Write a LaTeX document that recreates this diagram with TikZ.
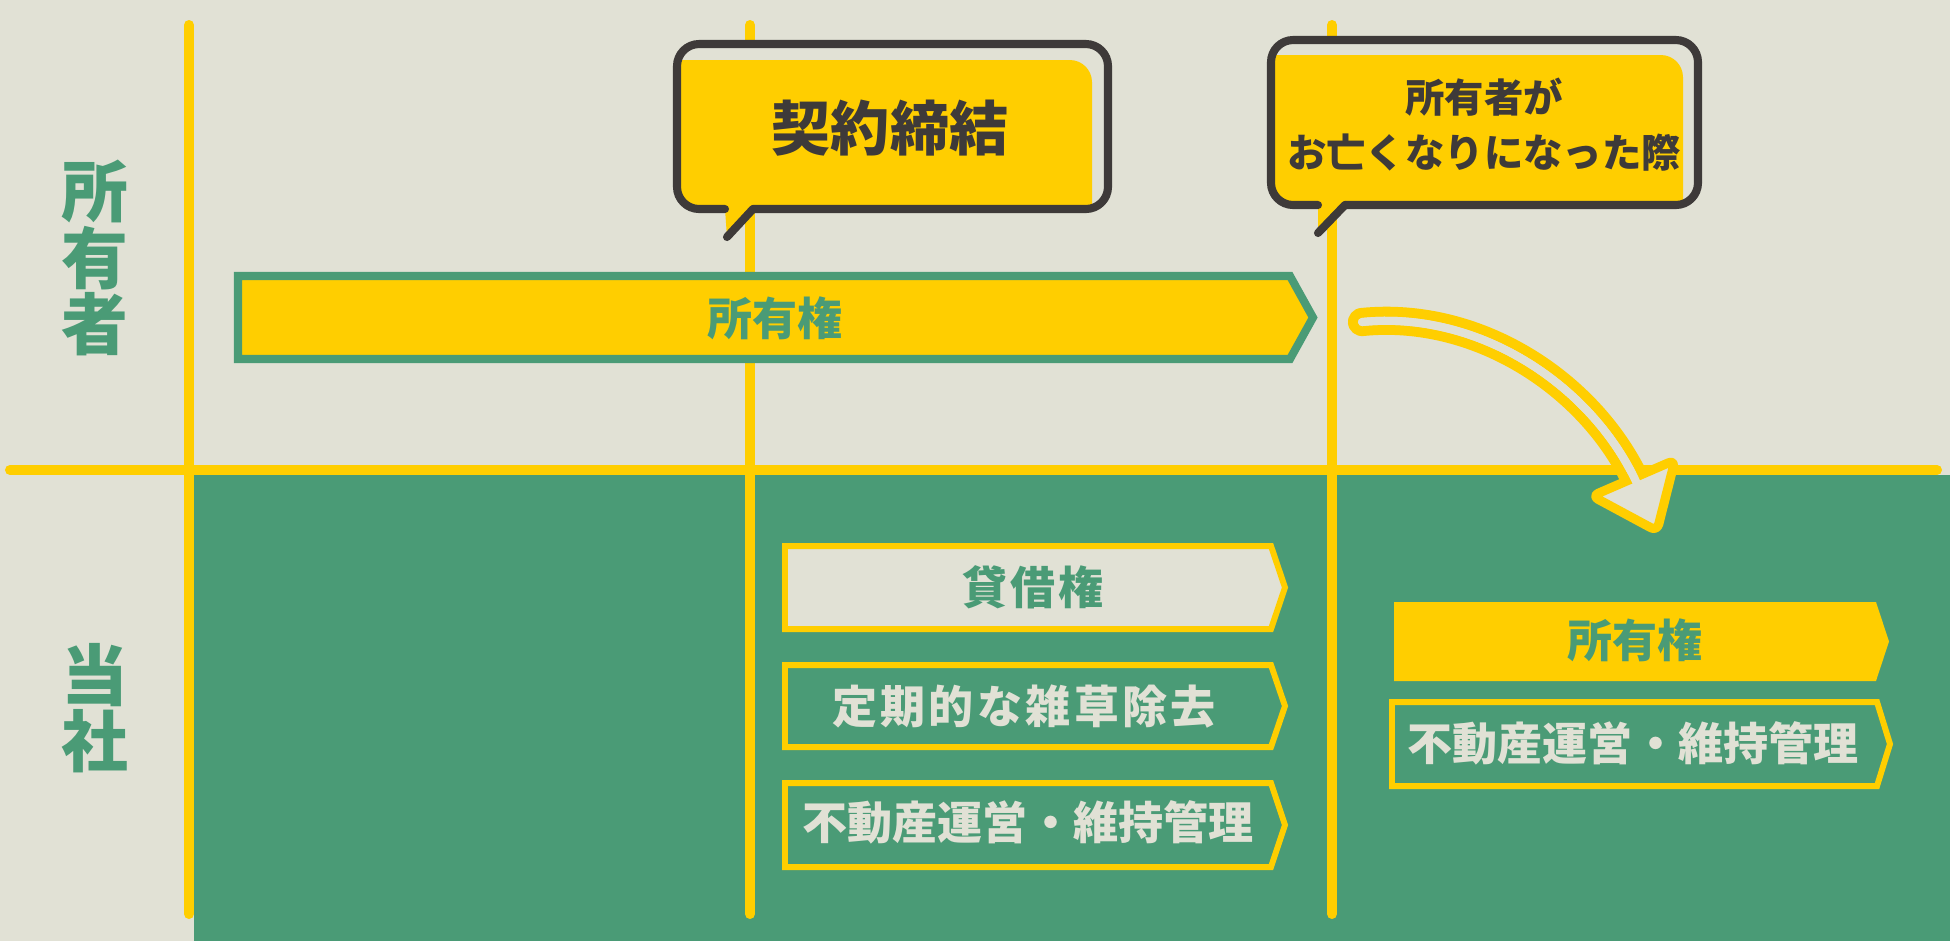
\documentclass[tikz,border=0pt]{standalone}
\usepackage{fontspec}
\setmainfont{Noto Sans CJK JP}

\definecolor{bgbeige}{HTML}{E1E1D5}
\definecolor{fieldgreen}{HTML}{4A9B76}
\definecolor{lineyellow}{HTML}{FFCE00}
\definecolor{inkdark}{HTML}{3E3A39}

\tikzset{
  grid line/.style={lineyellow, line width=2.85pt, line cap=round},
  bubble line/.style={inkdark, line width=2.3pt, line cap=round, line join=round},
  tag own/.style={fill=lineyellow, draw=fieldgreen, line width=2.3pt},
  tag pale/.style={fill=bgbeige, draw=lineyellow, line width=1.7pt},
  tag green/.style={fill=fieldgreen, draw=lineyellow, line width=1.7pt},
  tag yellow/.style={fill=lineyellow},
  row label/.style={text=fieldgreen, align=center, inner sep=0pt,
    font=\bfseries\fontsize{19}{18.8}\selectfont},
  on pale/.style={text=fieldgreen, inner sep=0pt,
    font=\bfseries\fontsize{12.8}{15}\selectfont},
  on green/.style={text=bgbeige, inner sep=0pt,
    font=\bfseries\fontsize{12.8}{15}\selectfont},
  bubble big/.style={text=inkdark, inner sep=0pt,
    font=\bfseries\fontsize{16.8}{20}\selectfont},
  bubble small/.style={text=inkdark, inner sep=0pt, align=center,
    font=\bfseries\fontsize{11.2}{15.6}\selectfont},
}

\begin{document}
\begin{tikzpicture}[x=0.01cm, y=-0.01cm]
    \useasboundingbox (0,0) rectangle (1950,941);

    % background and company field
    \fill[bgbeige] (0,0) rectangle (1950,941);
    \fill[fieldgreen] (194,475) rectangle (1950,941);

    % time lines
    \foreach \x in {189, 750, 1332}
        \draw[grid line] (\x,25) -- (\x,914);
    \draw[grid line] (10,470) -- (1937,470);

    % row labels
    \node[row label] (lblOwner) at (95,258) {所\\有\\者};
    \node[row label] (lblFirm) at (95,708) {当\\社};

    % owner's right before the change
    \draw[tag own] (238,276) -- (1290,276) -- (1313,317.5) -- (1290,359) -- (238,359) -- cycle;
    \node[on pale] (barOwn) at (775,318) {所有権};

    % bubble: contract
    \fill[bgbeige, rounded corners=6.3pt] (677,44) rectangle (1108,209);
    \fill[lineyellow] (725,209) -- (753,209) -- (727,237) -- cycle;
    \begin{scope}
        \clip[rounded corners=6.3pt] (677,44) rectangle (1108,209);
        \fill[lineyellow, rounded corners=6.3pt] (600,60) rectangle (1092,300);
    \end{scope}
    \draw[bubble line, rounded corners=6.3pt] (725,209) -- (677,209) -- (677,44)
        -- (1108,44) -- (1108,209) -- (753,209);
    \draw[bubble line] (753,209) -- (727,237);
    \node[bubble big] (bubSign) at (890,128) {契約締結};

    % bubble: owner passes away
    \fill[bgbeige, rounded corners=6.3pt] (1271,40) rectangle (1698,205);
    \fill[lineyellow] (1318,205) -- (1345,205) -- (1318,233) -- cycle;
    \begin{scope}
        \clip[rounded corners=6.3pt] (1271,40) rectangle (1698,205);
        \fill[lineyellow, rounded corners=6.3pt] (1200,55) rectangle (1683,300);
    \end{scope}
    \draw[bubble line, rounded corners=6.3pt] (1318,205) -- (1271,205) -- (1271,40)
        -- (1698,40) -- (1698,205) -- (1345,205);
    \draw[bubble line] (1345,205) -- (1318,233);
    \node[bubble small] (bubDeath) at (1484,125) {所有者が\\お亡くなりになった際};

    % transfer arrow
    \coordinate (arrS) at (1362,322);
    \coordinate (arrE) at (1639,488);
    \draw[lineyellow, line width=2.85pt, double=bgbeige, double distance=2.3pt, line cap=round]
        (arrS) .. controls (1480,310) and (1595,387) .. (arrE);
    \filldraw[fill=bgbeige, draw=lineyellow, line width=2.6pt, line join=round, rounded corners=2pt]
        (1592,496) -- (1675,460) -- (1657,531) -- cycle;
    \draw[bgbeige, line width=2.3pt, line cap=round]
        (arrS) .. controls (1480,310) and (1595,387) .. (arrE);

    % company tasks during the lease
    \draw[tag pale] (785,546) -- (1271,546) -- (1285,587.5) -- (1271,629) -- (785,629) -- cycle;
    \node[on pale] (tagLease) at (1033,587) {\addfontfeature{LetterSpace=7.5}貸借権};
    \draw[tag green] (785,665) -- (1271,665) -- (1285,706) -- (1271,747) -- (785,747) -- cycle;
    \node[on green] (tagWeed) at (1024,707) {\addfontfeature{LetterSpace=7.5}定期的な雑草除去};
    \draw[tag green] (785,783) -- (1271,783) -- (1285,825) -- (1271,867) -- (785,867) -- cycle;
    \node[on green] (tagCare) at (1028,822) {不動産運営・維持管理};

    % company after the transfer
    \fill[tag yellow] (1394,602) -- (1876,602) -- (1889,641.5) -- (1876,681) -- (1394,681) -- cycle;
    \node[on pale] (tagOwnNew) at (1635,640) {所有権};
    \draw[tag green] (1392,702) -- (1877,702) -- (1890,744) -- (1877,786) -- (1392,786) -- cycle;
    \node[on green] (tagCareNew) at (1633,743) {不動産運営・維持管理};
\end{tikzpicture}
\end{document}
